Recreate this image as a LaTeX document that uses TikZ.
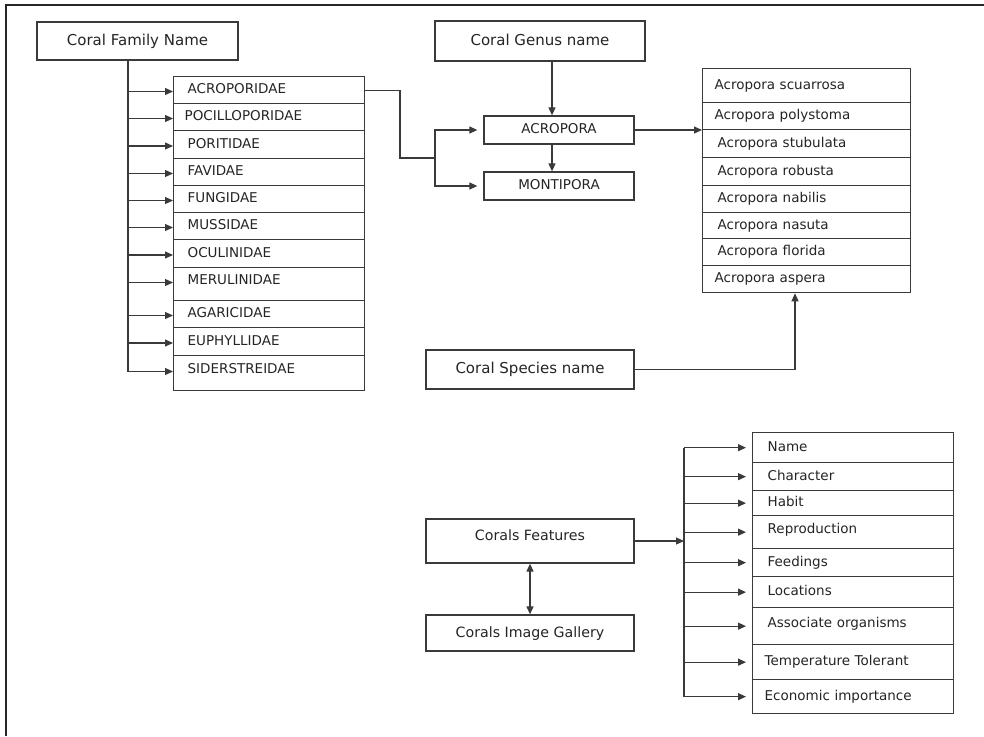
\documentclass[tikz,border=0pt]{standalone}
\usepackage{fontspec}
\newfontfamily\diagfont{DejaVu Sans}
\usetikzlibrary{arrows.meta, positioning}
\definecolor{lineclr}{HTML}{3A3A3A}
\definecolor{textclr}{HTML}{242424}

\tikzset{
  box/.style={draw=lineclr, line width=1.3pt, text=textclr,
    font=\diagfont\fontsize{15}{18}\selectfont, text height=11pt, text depth=3pt},
  gbox/.style={box, minimum width=150, minimum height=28,
    font=\diagfont\fontsize{13.5}{16}\selectfont, text height=10pt},
  cell/.style={draw=lineclr, line width=1.3pt, anchor=north west, text=textclr,
    font=\diagfont\fontsize{13.5}{16}\selectfont, text height=10pt, text depth=3pt,
    inner xsep=14pt, align=left},
  famcell/.style={cell, text width=163pt, minimum height=#1},
  spcell/.style={cell, text width=184pt, inner xsep=12pt, minimum height=#1},
  featcell/.style={cell, text width=177pt, inner xsep=12pt, minimum height=#1},
  conn/.style={draw=lineclr, line width=1.2pt},
  arr/.style={-{Triangle[length=8pt,width=7pt]}}
}

\begin{document}
\begin{tikzpicture}[x=1pt, y=-1pt]
  \useasboundingbox (0,0) rectangle (984,736);
  \draw[line width=1.8pt, black!85] (6,736) -- (6,5) -- (984,5);

  % family names
  \node[box, minimum width=201, minimum height=38] (famhead) at (137.5,41) {Coral Family Name};
  \node[famcell=27] (f1) at (173,76) {ACROPORIDAE};
  \node[famcell=27, inner xsep=11pt, text width=169pt] (f2) at (173,103) {POCILLOPORIDAE};
  \node[famcell=28] (f3) at (173,130) {PORITIDAE};
  \node[famcell=27] (f4) at (173,158) {FAVIDAE};
  \node[famcell=27] (f5) at (173,185) {FUNGIDAE};
  \node[famcell=27] (f6) at (173,212) {MUSSIDAE};
  \node[famcell=28] (f7) at (173,239) {OCULINIDAE};
  \node[famcell=33, text depth=9pt] (f8) at (173,267) {MERULINIDAE};
  \node[famcell=27] (f9) at (173,300) {AGARICIDAE};
  \node[famcell=28] (f10) at (173,327) {EUPHYLLIDAE};
  \node[famcell=35, text depth=9pt] (f11) at (173,355) {SIDERSTREIDAE};

  % genus names
  \node[box, minimum width=210, minimum height=40] (genushead) at (540,41) {Coral Genus name};
  \node[gbox] (acropora) at (559,130) {ACROPORA};
  \node[gbox] (montipora) at (559,186) {MONTIPORA};

  % species names
  \node[spcell=34] (s1) at (702,68) {Acropora scuarrosa};
  \node[spcell=27] (s2) at (702,102) {Acropora polystoma};
  \node[spcell=28, inner xsep=15pt, text width=178pt] (s3) at (702,129) {Acropora stubulata};
  \node[spcell=28, inner xsep=15pt, text width=178pt] (s4) at (702,157) {Acropora robusta};
  \node[spcell=27, inner xsep=15pt, text width=178pt] (s5) at (702,185) {Acropora nabilis};
  \node[spcell=26, inner xsep=15pt, text width=178pt] (s6) at (702,212) {Acropora nasuta};
  \node[spcell=27, inner xsep=15pt, text width=178pt] (s7) at (702,238) {Acropora florida};
  \node[spcell=27] (s8) at (702,265) {Acropora aspera};
  \node[box, minimum width=208, minimum height=39] (specieshead) at (530,369.5) {Coral Species name};

  % features
  \node[box, minimum width=208, minimum height=44, text depth=13pt,
    font=\diagfont\fontsize{14.2}{17}\selectfont] (features) at (530,541) {Corals Features};
  \node[box, minimum width=208, minimum height=36,
    font=\diagfont\fontsize{14.2}{17}\selectfont] (gallery) at (530,633) {Corals Image Gallery};
  \node[featcell=30, inner xsep=15pt, text width=171pt] (n1) at (752,432) {Name};
  \node[featcell=28, inner xsep=15pt, text width=171pt] (n2) at (752,462) {Character};
  \node[featcell=25, inner xsep=15pt, text width=171pt] (n3) at (752,490) {Habit};
  \node[featcell=33, inner xsep=15pt, text width=171pt, text depth=7pt] (n4) at (752,515) {Reproduction};
  \node[featcell=28, inner xsep=15pt, text width=171pt] (n5) at (752,548) {Feedings};
  \node[featcell=31, inner xsep=15pt, text width=171pt] (n6) at (752,576) {Locations};
  \node[featcell=37, inner xsep=15pt, text width=171pt, text depth=7pt] (n7) at (752,607) {Associate organisms};
  \node[featcell=35] (n8) at (752,644) {Temperature Tolerant};
  \node[featcell=34] (n9) at (752,679) {Economic importance};

  % family connectors
  \coordinate (famtrunk) at (128,0);
  \draw[conn, arr] (famhead.south -| famtrunk) |- (f11.mid west);
  \foreach \i in {1,...,10}
    \draw[conn, arr] (famtrunk |- f\i.mid west) -- (f\i.mid west);

  % family to genus
  \coordinate (bend) at (400,0);
  \coordinate (split) at (435,158);
  \draw[conn] (f1.east) -| (bend |- split) -- (split);
  \draw[conn, arr, shorten >=6pt] (split) |- (acropora.west);
  \draw[conn, arr, shorten >=6pt] (split) |- (montipora.west);
  \coordinate (gx) at (552,0);
  \draw[conn, arr] (genushead.south -| gx) -- (acropora.north -| gx);
  \draw[conn, arr] (acropora.south -| gx) -- (montipora.north -| gx);

  % genus to species
  \draw[conn, arr] (acropora.east) -- (acropora.east -| s2.west);
  \coordinate (sx) at (795,0);
  \draw[conn, arr] (specieshead.east) -| (s8.south -| sx);

  % features connectors
  \draw[conn, {Triangle[length=8pt,width=7pt]}-{Triangle[length=8pt,width=7pt]}]
    (features.south) -- (gallery.north);
  \coordinate (feattrunk) at (684,0);
  \draw[conn, arr] (features.east) -- (features.east -| feattrunk);
  \draw[conn] (feattrunk |- n1.west) -- (feattrunk |- n9.west);
  \foreach \i in {1,...,9}
    \draw[conn, arr, shorten >=6pt] (feattrunk |- n\i.west) -- (n\i.west);
\end{tikzpicture}
\end{document}
